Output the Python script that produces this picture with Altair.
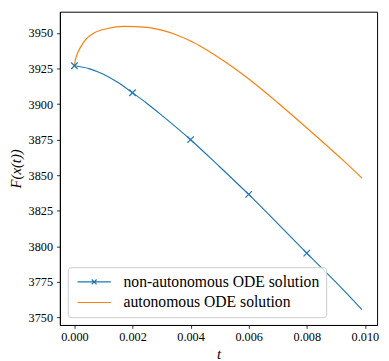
import altair as alt
import pandas as pd

# ---- data ----
t_non = [0, 0.0005, 0.001, 0.0015, 0.002, 0.0025, 0.003, 0.004, 0.005, 0.006, 0.007, 0.008, 0.009, 0.0099]
F_non = [3927, 3925, 3921, 3915.2, 3908, 3900.5, 3892.3, 3875, 3856, 3836.5, 3816, 3795.2, 3774.8, 3755.5]

t_marker = [0, 0.002, 0.004, 0.006, 0.008]
F_marker = [3927, 3908, 3875, 3836.5, 3795.2]

t_aut = [0, 0.00003, 0.0001, 0.00024, 0.0004, 0.0007, 0.00114, 0.0017, 0.0025, 0.003,
         0.0035, 0.0041, 0.0046, 0.0052, 0.0058, 0.0062, 0.007, 0.0081, 0.0093, 0.0099]
F_aut = [3927, 3930.8, 3935.4, 3941, 3945.7, 3950.3, 3953.2, 3954.7, 3954.0, 3952.0,
         3948.8, 3943.4, 3937.6, 3929.6, 3920.8, 3914.5, 3901, 3881.5, 3859.6, 3848]

series = ["non-autonomous ODE solution", "autonomous ODE solution"]
colors = ["#1f77b4", "#ff7f0e"]
x_ticks = [0, 0.002, 0.004, 0.006, 0.008, 0.010]
y_ticks = [3750, 3775, 3800, 3825, 3850, 3875, 3900, 3925, 3950]

lines = pd.concat([
    pd.DataFrame({"t": t_non, "F": F_non, "series": series[0], "order": range(len(t_non))}),
    pd.DataFrame({"t": t_aut, "F": F_aut, "series": series[1], "order": range(len(t_aut))}),
])
markers = pd.DataFrame({"t": t_marker, "F": F_marker, "series": series[0]})

FONT = "Liberation Serif"
XPATH = "M-1,-1L1,1M-1,1L1,-1"
LEG_LINE_X = "M-1,0L5.8,0M1.9,-0.5L2.9,0.5M1.9,0.5L2.9,-0.5"
LEG_LINE = "M-1,0L5.8,0"

x_axis = alt.Axis(values=x_ticks, format=".3f", title="t", titleFontStyle="italic",
                  labelOverlap=False, labelFlush=False)
y_axis = alt.Axis(values=y_ticks, format="d", title="F(x(t))", titleFontStyle="italic",
                  labelOverlap=False, labelFlush=False)
x_scale = alt.Scale(domain=[-0.0005, 0.01042], nice=False, zero=False)
y_scale = alt.Scale(domain=[3744.7, 3965], nice=False, zero=False)


def xe():
    return alt.X("t:Q", scale=x_scale, axis=x_axis)


def ye():
    return alt.Y("F:Q", scale=y_scale, axis=y_axis)


color_scale = alt.Scale(domain=series, range=colors)

line_layer = alt.Chart(lines).mark_line(strokeWidth=1.2, interpolate="monotone", clip=True).encode(
    x=xe(), y=ye(),
    color=alt.Color("series:N", scale=color_scale, legend=None),
    order="order:Q",
    detail="series:N",
)

marker_layer = alt.Chart(markers).mark_point(
    shape=XPATH, size=44, filled=False, strokeWidth=1.2, color=colors[0], opacity=1
).encode(x=xe(), y=ye())

leg = alt.Legend(title=None, orient="bottom-left", offset=8, labelLimit=0, labelFont=FONT)
legend_layer = alt.Chart(lines).mark_point(filled=False, opacity=0).encode(
    x=xe(), y=ye(),
    color=alt.Color("series:N", scale=color_scale, legend=leg),
    shape=alt.Shape("series:N", scale=alt.Scale(domain=series, range=[LEG_LINE_X, LEG_LINE]),
                    legend=leg),
)

chart = alt.layer(line_layer, marker_layer, legend_layer).resolve_scale(
    color="independent", shape="independent"
).properties(
    width=324, height=320,
    autosize=alt.AutoSizeParams(type="none"),
    padding={"left": 53, "top": 0, "right": 4, "bottom": 33},
).configure(font=FONT).configure_view(stroke="black", strokeWidth=1).configure_axis(
    grid=False, domain=True, domainColor="black", domainWidth=1,
    tickColor="black", tickSize=3.5, tickWidth=0.8,
    labelFont=FONT, labelFontSize=12.5, labelColor="black",
    titleFont=FONT, titleFontSize=15, titleColor="black", titleFontWeight="normal",
).configure_axisX(labelPadding=2, titlePadding=4).configure_axisY(
    labelPadding=4, titlePadding=5
).configure_legend(
    symbolOpacity=1, symbolSize=100, symbolStrokeWidth=1.2,
    labelOffset=34, rowPadding=5, padding=7,
    fillColor="rgba(255,255,255,0.8)", strokeColor="#cccccc",
    cornerRadius=3, labelFontSize=16, labelFont=FONT, labelLimit=0,
    labelColor="black", symbolFillColor="transparent",
)

chart.save("out.html", embed_options={"renderer": "svg", "actions": False})
